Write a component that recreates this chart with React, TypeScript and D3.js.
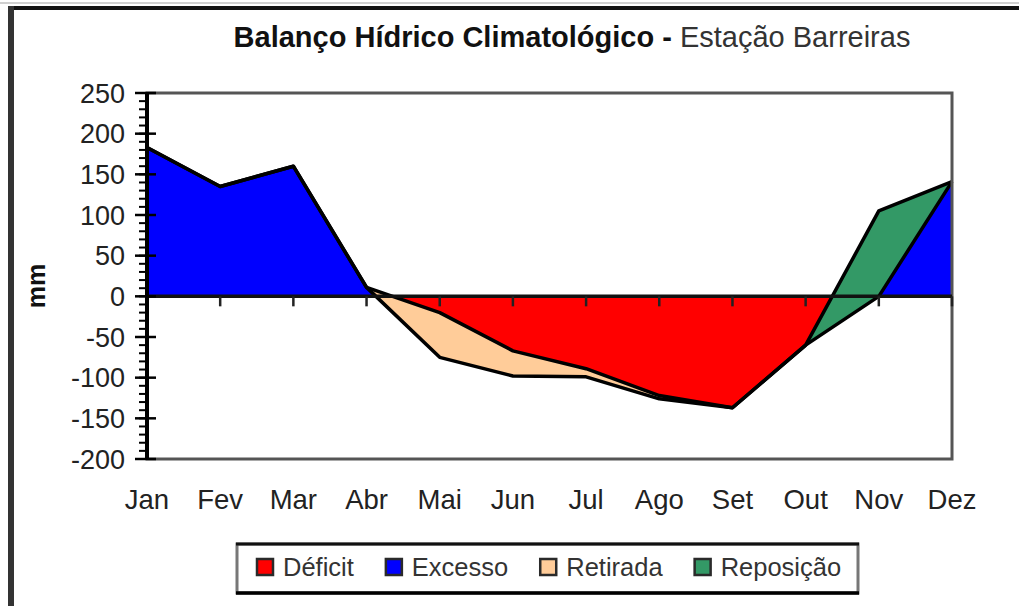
import React, {useEffect, useRef} from "react";
import * as d3 from "d3";

// monthly water balance values (mm)
const months = ["Jan", "Fev", "Mar", "Abr", "Mai", "Jun", "Jul", "Ago", "Set", "Out", "Nov", "Dez"];
const excesso = [183, 135, 160, 11, 0, 0, 0, 0, 0, 0, 0, 141];
const deficit = [0, 0, 0, 0, 20, 67, 89, 122, 137, 60, 0, 0];
const retirada = [0, 0, 0, 0, 55, 31, 10, 4, 0, 0, 0, 0];
const reposicao = [0, 0, 0, 0, 0, 0, 0, 0, 0, 0, 105, 0];
const yTicks = [250, 200, 150, 100, 50, 0, -50, -100, -150, -200];
const legendLabels = ["Déficit", "Excesso", "Retirada", "Reposição"];
const legendColors = ["#ff0000", "#0000ff", "#ffcc99", "#339966"];

const font = "'Liberation Sans', Arial, Helvetica, sans-serif";

export default function App() {
  const ref = useRef<SVGSVGElement>(null);
  const width = 1019;
  const height = 606;
  const plot = {left: 147, right: 952, top: 93, bottom: 459};

  useEffect(() => {
    const svg = d3.select(ref.current);
    svg.selectAll("*").remove();

    const x = d3.scalePoint<string>().domain(months).range([plot.left, plot.right]);
    const y = d3.scaleLinear().domain([-200, 250]).range([plot.bottom, plot.top]);
    const y0 = y(0);

    // the two boundary lines of the balance
    const upper = months.map((m, i) => excesso[i] + reposicao[i] - deficit[i]);
    const lower = months.map((m, i) => excesso[i] - deficit[i] - retirada[i]);
    const idx = months.map((m, i) => i);

    // page decoration: cut-off rule at the top and left border
    svg.append("rect").attr("x", 0).attr("y", 2).attr("width", width).attr("height", 2).attr("fill", "#d0d0d0");
    svg.append("rect").attr("x", 8).attr("y", 6).attr("width", width - 8).attr("height", 4).attr("fill", "#111");
    svg.append("rect").attr("x", 8).attr("y", 6).attr("width", 6).attr("height", height - 6).attr("fill", "#333");

    // title
    const title = svg.append("text")
      .attr("x", 572).attr("y", 47)
      .attr("text-anchor", "middle")
      .attr("font-family", font)
      .attr("font-size", 29);
    title.append("tspan").attr("font-weight", "bold").attr("fill", "#111").text("Balanço Hídrico Climatológico - ");
    title.append("tspan").attr("fill", "#333").text("Estação Barreiras");

    const defs = svg.append("defs");
    defs.append("clipPath").attr("id", "above").append("rect")
      .attr("x", plot.left).attr("y", plot.top)
      .attr("width", plot.right - plot.left).attr("height", y0 - plot.top);
    defs.append("clipPath").attr("id", "below").append("rect")
      .attr("x", plot.left).attr("y", y0)
      .attr("width", plot.right - plot.left).attr("height", plot.bottom - y0);

    const g = svg.append("g");

    // excesso: between zero and lower line, above zero
    g.append("path")
      .attr("clip-path", "url(#above)")
      .attr("fill", legendColors[1])
      .attr("d", d3.area<number>()
        .x(i => x(months[i])!)
        .y0(y0)
        .y1(i => y(lower[i]))(idx));

    // deficit: between zero and upper line, below zero
    g.append("path")
      .attr("clip-path", "url(#below)")
      .attr("fill", legendColors[0])
      .attr("d", d3.area<number>()
        .x(i => x(months[i])!)
        .y0(y0)
        .y1(i => y(upper[i]))(idx));

    // retirada and reposicao: band between the two lines
    const band = (from: number, to: number) => d3.area<number>()
      .defined(i => i >= from && i <= to)
      .x(i => x(months[i])!)
      .y0(i => y(lower[i]))
      .y1(i => y(upper[i]))(idx);
    g.append("path").attr("fill", legendColors[2]).attr("d", band(3, 8));
    g.append("path").attr("fill", legendColors[3]).attr("d", band(9, 11));

    const line = (vals: number[]) => d3.line<number>()
      .x(i => x(months[i])!)
      .y(i => y(vals[i]))(idx);
    [upper, lower].forEach(vals => {
      g.append("path")
        .attr("d", line(vals))
        .attr("fill", "none")
        .attr("stroke", "#000")
        .attr("stroke-width", 3.5)
        .attr("stroke-linejoin", "round");
    });

    // plot frame
    svg.append("rect")
      .attr("x", plot.left).attr("y", plot.top)
      .attr("width", plot.right - plot.left).attr("height", plot.bottom - plot.top)
      .attr("fill", "none").attr("stroke", "#555").attr("stroke-width", 3);

    // zero line with month ticks
    svg.append("line")
      .attr("x1", plot.left).attr("x2", plot.right)
      .attr("y1", y0).attr("y2", y0)
      .attr("stroke", "#111").attr("stroke-width", 3.5);
    svg.append("g").selectAll("line")
      .data(months.slice(1))
      .join("line")
      .attr("x1", d => x(d)!).attr("x2", d => x(d)!)
      .attr("y1", y0).attr("y2", y0 + 10)
      .attr("stroke", "#222").attr("stroke-width", 2.5);

    // y axis
    svg.append("line")
      .attr("x1", plot.left).attr("x2", plot.left)
      .attr("y1", plot.top).attr("y2", plot.bottom)
      .attr("stroke", "#000").attr("stroke-width", 4);
    svg.append("g").selectAll("line")
      .data(d3.range(-200, 251, 10))
      .join("line")
      .attr("x1", plot.left - 8).attr("x2", plot.left)
      .attr("y1", d => y(d)).attr("y2", d => y(d))
      .attr("stroke", "#000").attr("stroke-width", 2);
    svg.append("g").selectAll("line")
      .data(yTicks)
      .join("line")
      .attr("x1", plot.left - 12).attr("x2", plot.left + 9)
      .attr("y1", d => y(d)).attr("y2", d => y(d))
      .attr("stroke", "#000").attr("stroke-width", 2.5);
    svg.append("g").selectAll("text")
      .data(yTicks)
      .join("text")
      .attr("x", 125)
      .attr("y", d => y(d))
      .attr("dy", "0.36em")
      .attr("text-anchor", "end")
      .attr("font-family", font)
      .attr("font-size", 27)
      .attr("fill", "#222")
      .text(d => d);

    svg.append("text")
      .attr("transform", `translate(45,${(plot.top + plot.bottom) / 2 + 10}) rotate(-90)`)
      .attr("text-anchor", "middle")
      .attr("font-family", font)
      .attr("font-weight", "bold")
      .attr("font-size", 25)
      .attr("fill", "#111")
      .text("mm");

    // month labels
    svg.append("g").selectAll("text")
      .data(months)
      .join("text")
      .attr("x", d => x(d)!)
      .attr("y", 509)
      .attr("text-anchor", "middle")
      .attr("font-family", font)
      .attr("font-size", 27.5)
      .attr("fill", "#222")
      .text(d => d);

    // legend
    const lg = svg.append("g");
    lg.append("rect")
      .attr("x", 237).attr("y", 544).attr("width", 621).attr("height", 49)
      .attr("fill", "#fff").attr("stroke", "#777").attr("stroke-width", 3);
    lg.append("line").attr("x1", 236).attr("x2", 859).attr("y1", 544).attr("y2", 544)
      .attr("stroke", "#111").attr("stroke-width", 3);
    lg.append("line").attr("x1", 236).attr("x2", 859).attr("y1", 593).attr("y2", 593)
      .attr("stroke", "#000").attr("stroke-width", 3.5);
    let cx = 257;
    legendLabels.forEach((label, i) => {
      lg.append("rect")
        .attr("x", cx).attr("y", 559).attr("width", 16).attr("height", 16)
        .attr("fill", legendColors[i]).attr("stroke", "#2a2a2a").attr("stroke-width", 2.5);
      const t = lg.append("text")
        .attr("x", cx + 26).attr("y", 576)
        .attr("font-family", font)
        .attr("font-size", 25.5)
        .attr("fill", "#333")
        .text(label);
      const w = (t.node() as SVGTextElement).getComputedTextLength();
      cx += 26 + w + 32;
    });
  }, []);

  return (
    <svg ref={ref} width={width} height={height}
      style={{position: "absolute", left: 0, top: 0, background: "#fff"}}/>
  );
}
